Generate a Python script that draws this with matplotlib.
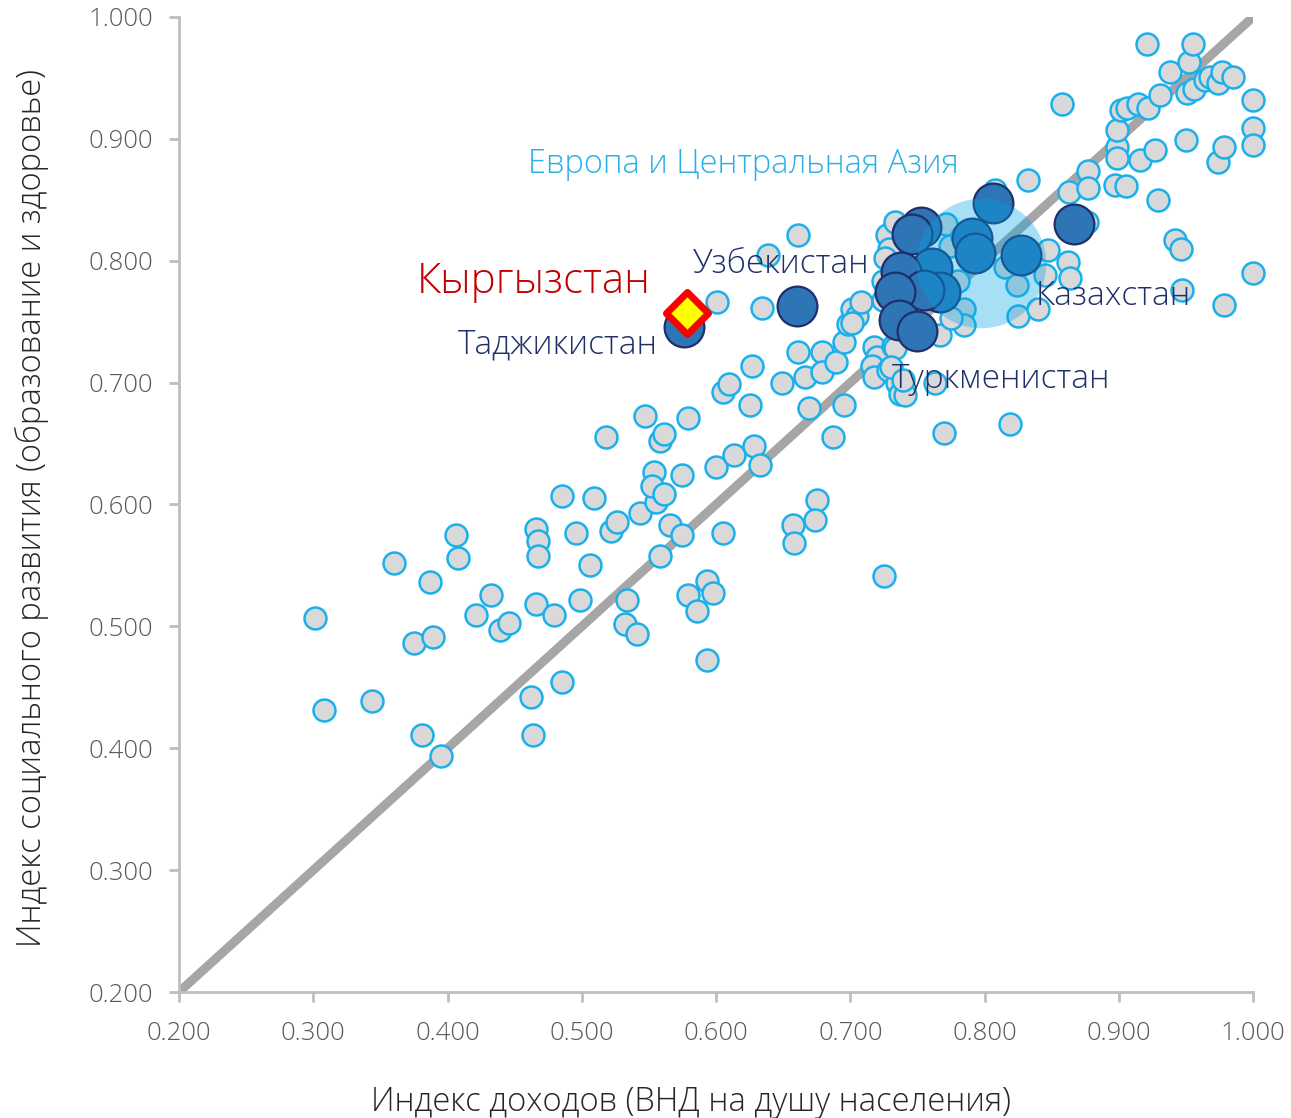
import matplotlib
matplotlib.use("Agg")
import matplotlib.pyplot as plt
from matplotlib import font_manager as fm

plt.rcParams['font.family'] = ['Open Sans', 'DejaVu Sans']

# look for a light, normal-width face (the original uses a thin Segoe-like font)
light_file = None
for fam in ['Open Sans', 'Noto Sans', 'Lato']:
    for f in fm.fontManager.ttflist:
        if (f.name == fam and f.weight in (300, 'light') and f.style == 'normal'
                and f.stretch == 'normal' and 'ondensed' not in f.fname
                and 'SemiCond' not in f.fname):
            light_file = f.fname
            break
    if light_file:
        break


def lp(size):
    if light_file:
        return fm.FontProperties(fname=light_file, size=size)
    return fm.FontProperties(family=['Open Sans', 'DejaVu Sans'], size=size)


# all countries: income index (GNI per capita) vs social index (education and health)
income_idx = [0.301, 0.308, 0.344, 0.360, 0.375, 0.381, 0.387, 0.389, 0.395, 0.406,
              0.408, 0.421, 0.432, 0.439, 0.446, 0.462, 0.464, 0.466, 0.466, 0.467,
              0.467, 0.479, 0.485, 0.485, 0.496, 0.499, 0.506, 0.509, 0.518, 0.522,
              0.526, 0.532, 0.534, 0.541, 0.543, 0.547, 0.555, 0.554, 0.552, 0.558,
              0.561, 0.558, 0.561, 0.566, 0.575, 0.575, 0.579, 0.579, 0.586, 0.593,
              0.598, 0.593, 0.600, 0.605, 0.605, 0.610, 0.613, 0.625, 0.627, 0.628,
              0.633, 0.601, 0.634, 0.639, 0.661, 0.649, 0.661, 0.666, 0.669, 0.657,
              0.658, 0.675, 0.674, 0.679, 0.679, 0.687, 0.689, 0.695, 0.695, 0.698,
              0.701, 0.705, 0.708, 0.725, 0.718, 0.720, 0.716, 0.718, 0.728, 0.735,
              0.737, 0.724, 0.724, 0.727, 0.729, 0.732, 0.741, 0.763, 0.767, 0.770,
              0.774, 0.785, 0.785, 0.819, 0.815, 0.824, 0.825, 0.840, 0.847, 0.845,
              0.832, 0.808, 0.863, 0.862, 0.864, 0.877, 0.877, 0.858, 0.897, 0.905,
              0.899, 0.899, 0.899, 0.902, 0.906, 0.914, 0.916, 0.921, 0.922, 0.927,
              0.929, 0.931, 0.938, 0.942, 0.946, 0.947, 0.950, 0.951, 0.952, 0.955,
              0.956, 0.964, 0.968, 0.974, 0.974, 0.977, 0.978, 0.978, 0.985, 1.000,
              1.000, 1.000, 1.000, 0.701, 0.876, 0.733, 0.730, 0.739, 0.733, 0.741,
              0.771, 0.783, 0.769, 0.775, 0.726, 0.780]
social_idx = [0.507, 0.431, 0.439, 0.552, 0.486, 0.411, 0.536, 0.491, 0.394, 0.575,
              0.556, 0.509, 0.526, 0.497, 0.503, 0.442, 0.411, 0.518, 0.580, 0.570,
              0.558, 0.509, 0.454, 0.607, 0.577, 0.522, 0.550, 0.605, 0.655, 0.578,
              0.586, 0.502, 0.522, 0.494, 0.593, 0.673, 0.602, 0.627, 0.615, 0.652,
              0.658, 0.558, 0.609, 0.583, 0.575, 0.624, 0.671, 0.526, 0.513, 0.537,
              0.527, 0.472, 0.631, 0.577, 0.692, 0.699, 0.641, 0.682, 0.714, 0.648,
              0.632, 0.766, 0.761, 0.805, 0.821, 0.700, 0.725, 0.705, 0.679, 0.583,
              0.568, 0.604, 0.587, 0.725, 0.709, 0.655, 0.717, 0.733, 0.682, 0.748,
              0.760, 0.755, 0.766, 0.541, 0.729, 0.721, 0.714, 0.705, 0.710, 0.700,
              0.691, 0.768, 0.783, 0.821, 0.810, 0.730, 0.690, 0.700, 0.739, 0.659,
              0.812, 0.760, 0.747, 0.666, 0.795, 0.780, 0.755, 0.760, 0.809, 0.788,
              0.866, 0.858, 0.856, 0.799, 0.786, 0.874, 0.860, 0.929, 0.862, 0.861,
              0.893, 0.884, 0.907, 0.924, 0.925, 0.929, 0.883, 0.978, 0.925, 0.891,
              0.850, 0.936, 0.955, 0.817, 0.810, 0.776, 0.899, 0.938, 0.963, 0.978,
              0.941, 0.948, 0.951, 0.946, 0.881, 0.955, 0.893, 0.764, 0.951, 0.932,
              0.909, 0.895, 0.790, 0.749, 0.832, 0.728, 0.713, 0.702, 0.832, 0.827,
              0.830, 0.820, 0.776, 0.753, 0.802, 0.783]

# Europe and Central Asia countries
eca_income = [0.806, 0.867, 0.753, 0.746, 0.791, 0.793, 0.827, 0.761, 0.738,
              0.767, 0.755, 0.733, 0.736, 0.750, 0.576, 0.660]
eca_social = [0.847, 0.830, 0.828, 0.822, 0.819, 0.806, 0.805, 0.794, 0.791,
              0.774, 0.776, 0.774, 0.751, 0.742, 0.746, 0.763]

# regional average
eca_mean_x = [0.797]
eca_mean_y = [0.798]

# Kyrgyzstan
kgz_x = [0.578]
kgz_y = [0.757]

ticks = [0.2, 0.3, 0.4, 0.5, 0.6, 0.7, 0.8, 0.9, 1.0]

fig = plt.figure(figsize=(12.91, 11.18), dpi=100)
ax = fig.add_axes([0.1387, 0.1127, 0.8319, 0.8721])

ax.plot([0.2, 1.0], [0.2, 1.0], color='#a6a6a6', lw=6.5, solid_capstyle='butt', zorder=1)

ax.scatter(income_idx, social_idx, s=250, c='#d9d9d9', edgecolors='#1ab0ec',
           linewidths=1.8, zorder=2, clip_on=False)
ax.scatter(eca_income, eca_social, s=820, c='#2e75b6', edgecolors='#1f2f6b',
           linewidths=1.6, zorder=3, clip_on=False)
ax.scatter(eca_mean_x, eca_mean_y, s=8700, c='#00a5e6', alpha=0.35,
           linewidths=0, zorder=4)
ax.scatter(kgz_x, kgz_y, marker='D', s=460, c='#ffff00', edgecolors='#ff0000',
           linewidths=5, zorder=5)

ax.text(0.460, 0.879, 'Европа и Центральная Азия', color='#29b0e8',
        fontproperties=lp(23.5), va='center', ha='left', zorder=6)
ax.text(0.551, 0.783, 'Кыргызстан', color='#c00000', fontproperties=lp(30.3),
        va='center', ha='right', zorder=6)
ax.text(0.583, 0.797, 'Узбекистан', color='#1f3068', fontproperties=lp(24),
        va='center', ha='left', zorder=6)
ax.text(0.557, 0.731, 'Таджикистан', color='#1f3068', fontproperties=lp(24),
        va='center', ha='right', zorder=6)
ax.text(0.838, 0.771, 'Казахстан', color='#1f3068', fontproperties=lp(24),
        va='center', ha='left', zorder=6)
ax.text(0.731, 0.703, 'Туркменистан', color='#1f3068', fontproperties=lp(24),
        va='center', ha='left', zorder=6)

ax.set_xlim(0.2, 1.0)
ax.set_ylim(0.2, 1.0)
ax.set_xticks(ticks)
ax.set_yticks(ticks)
ax.set_xticklabels(['%.3f' % t for t in ticks])
ax.set_yticklabels(['%.3f' % t for t in ticks])
for lab in ax.get_xticklabels() + ax.get_yticklabels():
    lab.set_fontproperties(lp(18.5))
ax.tick_params(axis='both', colors='#bfbfbf', labelcolor='#595959',
               length=7, width=2, pad=12)
ax.tick_params(axis='x', pad=14)
for side in ['top', 'right']:
    ax.spines[side].set_visible(False)
for side in ['left', 'bottom']:
    ax.spines[side].set_color('#bfbfbf')
    ax.spines[side].set_linewidth(2)

fig.text(0.535, 0.014, 'Индекс доходов (ВНД на душу населения)', color='#262626',
         fontproperties=lp(23.6), ha='center', va='center')
fig.text(0.025, 0.546, 'Индекс социального развития (образование и здоровье)',
         color='#262626', fontproperties=lp(23.6), ha='center', va='center',
         rotation=90)

fig.savefig('out.png', dpi=100)
